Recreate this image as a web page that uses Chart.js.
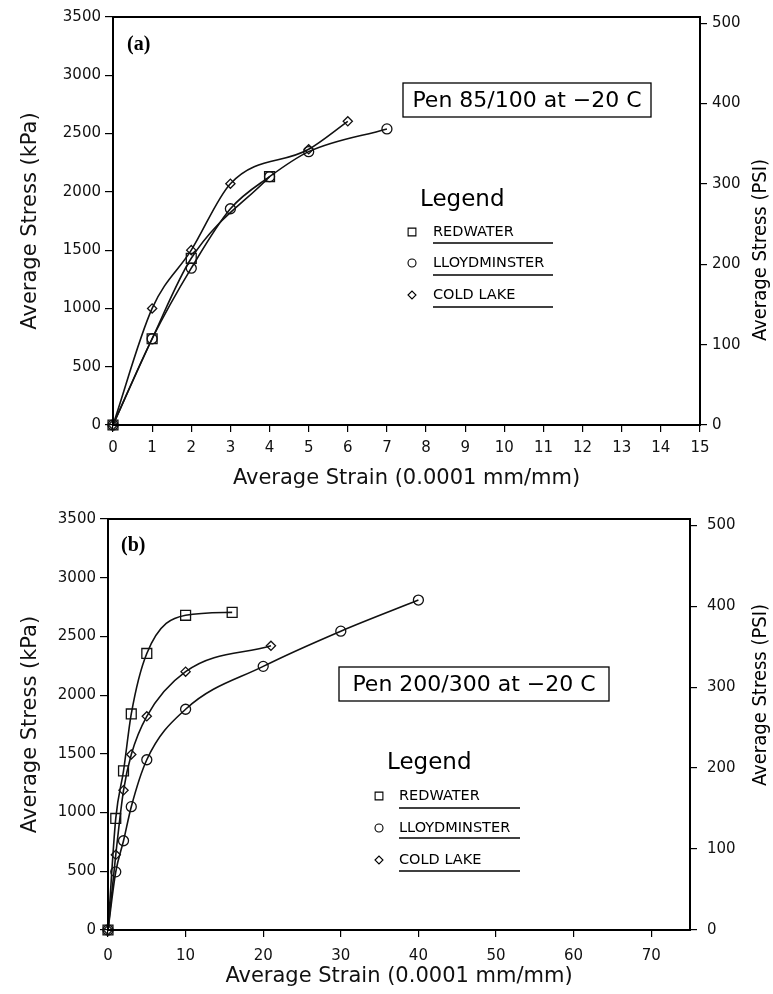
<!DOCTYPE html>
<html><head><meta charset="utf-8">
<script src="https://cdn.jsdelivr.net/npm/chart.js@4.4.1/dist/chart.umd.min.js"></script>
<style>
html,body{margin:0;padding:0;background:#fff;}
#wrap{position:relative;width:773px;height:994px;overflow:hidden;}
.box{position:absolute;left:0;width:773px;height:497px;}
</style></head><body>
<div id="wrap">
<div class="box" style="top:0"><canvas id="cA" width="773" height="497"></canvas></div>
<div class="box" style="top:497px"><canvas id="cB" width="773" height="497"></canvas></div>
</div>
<script>
// ---------- DATA ----------
const seriesNames = ['REDWATER', 'LLOYDMINSTER', 'COLD LAKE'];
const seriesStyles = ['rect', 'circle', 'rectRot'];

// Panel (a): Pen 85/100 at -20 C
const aRedwaterX = [0, 1, 2, 4];
const aRedwaterY = [0, 740, 1430, 2130];
const aLloydX = [0, 1, 2, 3, 4, 5, 7];
const aLloydY = [0, 740, 1345, 1855, 2130, 2345, 2540];
const aColdX = [0, 1, 2, 3, 5, 6];
const aColdY = [0, 1000, 1500, 2070, 2365, 2605];

// Panel (b): Pen 200/300 at -20 C
const bRedwaterX = [0, 1, 2, 3, 5, 10, 16];
const bRedwaterY = [0, 950, 1355, 1840, 2355, 2680, 2705];
const bLloydX = [0, 1, 2, 3, 5, 10, 20, 30, 40];
const bLloydY = [0, 495, 760, 1050, 1450, 1880, 2245, 2545, 2810];
const bColdX = [0, 1, 2, 3, 5, 10, 21];
const bColdY = [0, 640, 1190, 1495, 1820, 2200, 2420];

// Tick labels
const stressTicks = [0, 500, 1000, 1500, 2000, 2500, 3000, 3500];
const psiTicks = [0, 100, 200, 300, 400, 500];
const strainTicksA = [0, 1, 2, 3, 4, 5, 6, 7, 8, 9, 10, 11, 12, 13, 14, 15];
const strainTicksB = [0, 10, 20, 30, 40, 50, 60, 70];

const KPA_PER_PSI = 6.894757;
const FONT = "'DejaVu Sans', sans-serif";

// ---------- HELPERS ----------
function pts(xs, ys) { return xs.map((x, i) => ({ x: x, y: ys[i] })); }
function fixTicks(arr) { return function (scale) { scale.ticks = arr.map(v => ({ value: v })); }; }
const plain = v => String(v);

const radii = { rect: 7, circle: 5, rectRot: 4.6 };

function makeDatasets(sets) {
  return sets.map((s, i) => ({
    label: seriesNames[i],
    data: pts(s[0], s[1]),
    showLine: true,
    borderColor: '#111',
    borderWidth: 1.6,
    cubicInterpolationMode: 'monotone',
    pointStyle: seriesStyles[i],
    pointRadius: radii[seriesStyles[i]],
    pointBorderWidth: 1.3,
    pointBorderColor: '#111',
    pointBackgroundColor: 'rgba(0,0,0,0)',
    clip: false
  }));
}

const decor = {
  id: 'decor',
  afterDraw(chart, args, o) {
    const ctx = chart.ctx, ca = chart.chartArea;
    ctx.save();
    ctx.strokeStyle = '#000';
    ctx.fillStyle = '#000';
    ctx.lineWidth = 2;
    ctx.strokeRect(ca.left, ca.top, ca.right - ca.left, ca.bottom - ca.top);

    // panel label
    ctx.font = "bold 20px 'Liberation Serif', 'DejaVu Serif', serif";
    ctx.textBaseline = 'middle';
    ctx.textAlign = 'left';
    ctx.fillText(o.panel, o.panelX, o.panelY);

    // condition box
    ctx.lineWidth = 1.3;
    ctx.strokeRect(o.boxX, o.boxY, o.boxW, o.boxH);
    ctx.font = '22px ' + FONT;
    ctx.textAlign = 'center';
    ctx.fillText(o.boxText, o.boxX + o.boxW / 2, o.boxY + o.boxH / 2 + 1);

    // legend
    ctx.textAlign = 'left';
    ctx.font = '23px ' + FONT;
    ctx.fillText('Legend', o.legX, o.legY);
    ctx.font = '14.5px ' + FONT;
    chart.data.datasets.forEach((ds, i) => {
      const y = o.rowY[i];
      ctx.fillStyle = '#000';
      ctx.fillText(ds.label, o.textX, y);
      ctx.beginPath();
      ctx.lineWidth = 1.5;
      ctx.moveTo(o.textX, o.ulY[i]);
      ctx.lineTo(o.ulEnd, o.ulY[i]);
      ctx.stroke();
      ctx.fillStyle = 'rgba(0,0,0,0)';
      ctx.lineWidth = 1.1;
      const r = ds.pointStyle === 'rect' ? 5.5 : 4;
      Chart.helpers.drawPoint(ctx, { pointStyle: ds.pointStyle, radius: r, borderWidth: 1.1, rotation: 0 }, o.markX, y);
    });

    // right axis title (reads bottom to top)
    ctx.fillStyle = '#000';
    ctx.translate(o.rtX, o.rtY);
    ctx.rotate(-Math.PI / 2);
    ctx.font = "20px 'DejaVu Sans Condensed', " + FONT;
    ctx.textAlign = 'center';
    ctx.fillText('Average Stress (PSI)', 0, 0);
    ctx.restore();
  }
};

function makeChart(id, cfg) {
  const tickFont = { family: FONT, size: 15 };
  const titleFont = { family: FONT, size: 21 };
  return new Chart(document.getElementById(id), {
    type: 'scatter',
    data: { datasets: makeDatasets(cfg.sets) },
    options: {
      responsive: false,
      animation: false,
      devicePixelRatio: 1,
      layout: { padding: { top: cfg.top, left: 0, right: 0, bottom: 0 } },
      plugins: {
        legend: { display: false },
        tooltip: { enabled: false },
        decor: cfg.decor
      },
      scales: {
        x: {
          type: 'linear', position: 'bottom', min: 0, max: cfg.xMax,
          afterBuildTicks: fixTicks(cfg.xTicks),
          afterFit(s) { s.height = cfg.xH; },
          grid: { drawOnChartArea: false, drawTicks: true, tickLength: 7, color: '#000', lineWidth: 1.2 },
          border: { display: true, color: '#000', width: 2 },
          ticks: { font: tickFont, color: '#111', padding: cfg.xPad, maxRotation: 0, autoSkip: false, callback: plain },
          title: { display: true, text: 'Average Strain (0.0001 mm/mm)', font: titleFont, color: '#111', padding: { top: 0, bottom: cfg.xTitlePad } }
        },
        y: {
          type: 'linear', position: 'left', min: 0, max: 3500,
          afterBuildTicks: fixTicks(stressTicks),
          afterFit(s) { s.width = cfg.leftW; },
          grid: { drawOnChartArea: false, drawTicks: true, tickLength: 8, color: '#000', lineWidth: 1.2 },
          border: { display: true, color: '#000', width: 2 },
          ticks: { font: tickFont, color: '#111', padding: 4, callback: plain },
          title: { display: true, text: 'Average Stress (kPa)', font: titleFont, color: '#111', padding: { top: 18, bottom: 0 } }
        },
        y2: {
          type: 'linear', position: 'right', min: 0, max: 3500 / KPA_PER_PSI,
          afterBuildTicks: fixTicks(psiTicks),
          afterFit(s) { s.width = cfg.rightW; },
          grid: { drawOnChartArea: false, drawTicks: true, tickLength: 7, color: '#000', lineWidth: 1.2 },
          border: { display: true, color: '#000', width: 2 },
          ticks: { font: tickFont, color: '#111', padding: cfg.y2Pad, callback: plain },
          title: { display: false }
        }
      }
    },
    plugins: [decor]
  });
}

makeChart('cA', {
  sets: [[aRedwaterX, aRedwaterY], [aLloydX, aLloydY], [aColdX, aColdY]],
  xMax: 15, xTicks: strainTicksA,
  top: 17, xH: 72, leftW: 113, rightW: 73, xPad: 7, xTitlePad: 6, y2Pad: 5,
  decor: {
    panel: '(a)', panelX: 127, panelY: 45,
    boxX: 403, boxY: 83, boxW: 248, boxH: 34, boxText: 'Pen 85/100 at \u221220 C',
    legX: 420, legY: 200,
    markX: 412, textX: 433, rowY: [232, 263, 295], ulY: [243, 275, 307], ulEnd: 553,
    rtX: 761, rtY: 250
  }
});

makeChart('cB', {
  sets: [[bRedwaterX, bRedwaterY], [bLloydX, bLloydY], [bColdX, bColdY]],
  xMax: 75, xTicks: strainTicksB,
  top: 22, xH: 64, leftW: 108, rightW: 83, xPad: 10, xTitlePad: 5, y2Pad: 10,
  decor: {
    panel: '(b)', panelX: 121, panelY: 49,
    boxX: 339, boxY: 170, boxW: 270, boxH: 34, boxText: 'Pen 200/300 at \u221220 C',
    legX: 387, legY: 266,
    markX: 379, textX: 399, rowY: [299, 331, 363], ulY: [311, 341, 374], ulEnd: 520,
    rtX: 761, rtY: 198
  }
});
</script>
</body></html>
